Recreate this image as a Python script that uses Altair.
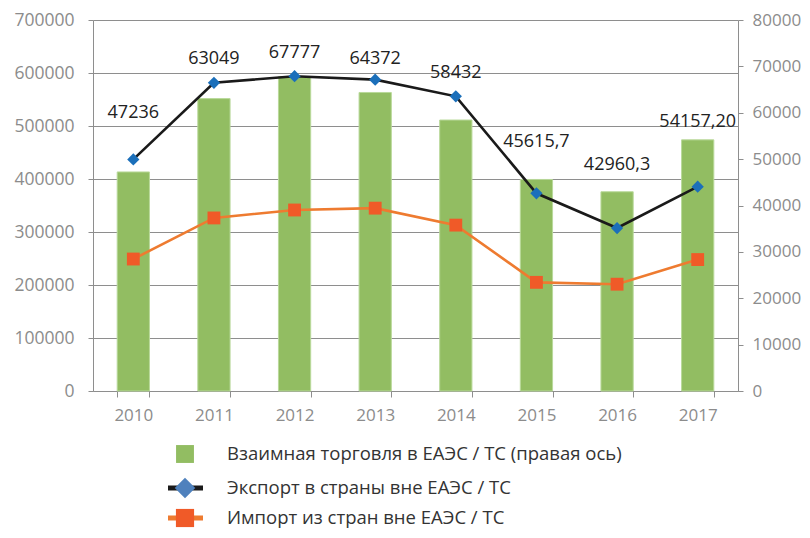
import altair as alt
import pandas as pd

years = ["2010", "2011", "2012", "2013", "2014", "2015", "2016", "2017"]
mutual_trade = [47236, 63049, 67777, 64372, 58432, 45615.7, 42960.3, 54157.20]
mutual_labels = ["47236", "63049", "67777", "64372", "58432", "45615,7", "42960,3", "54157,20"]
export_vals = [437000, 581500, 594000, 587500, 556000, 373000, 307500, 385500]
import_vals = [249000, 326500, 341500, 345000, 313000, 205000, 201500, 248000]
label_pos = [524600, 626500, 637800, 626500, 600000, 469900, 426500, 507600]

legend_labels = [
    "Взаимная торговля в ЕАЭС / ТС (правая ось)",
    "Экспорт в страны вне ЕАЭС / ТС",
    "Импорт из стран вне ЕАЭС / ТС",
]

df = pd.DataFrame({
    "year": years,
    "mutual": mutual_trade,
    "mutual_label": mutual_labels,
    "export": export_vals,
    "import": import_vals,
    "label_pos": label_pos,
})

FONT = "Open Sans"
GRAY = "#8c8c8c"
GRID = "#8e8e8e"

x_enc = alt.X(
    "year:N",
    title=None,
    scale=alt.Scale(paddingInner=0.6, paddingOuter=0.3),
    axis=alt.Axis(
        labelAngle=0, labelColor=GRAY, labelFont=FONT, labelFontSize=17,
        domainColor=GRID, tickColor=GRID, tickSize=6, tickBand="extent",
        labelPadding=10, grid=False,
    ),
)

base = alt.Chart(df)

bars = base.mark_bar(color="#92BD62", stroke="#B9D99A", strokeWidth=1).encode(
    x=x_enc,
    y=alt.Y(
        "mutual:Q", title=None,
        scale=alt.Scale(domain=[0, 80000], nice=False),
        axis=alt.Axis(
            orient="right", values=list(range(0, 80001, 10000)), format="d",
            labelColor=GRAY, labelFont=FONT, labelFontSize=17,
            domainColor=GRID, tickColor=GRID, tickSize=5, labelPadding=9,
            grid=False,
        ),
    ),
)

left_y_scale = alt.Scale(domain=[0, 700000], nice=False)
left_axis = alt.Axis(
    orient="left", values=list(range(0, 700001, 100000)), format="d",
    labelColor=GRAY, labelFont=FONT, labelFontSize=17.5,
    domainColor=GRID, tickColor=GRID, tickSize=5, labelPadding=14,
    grid=True, gridColor=GRID, gridWidth=1.2, gridOpacity=1,
)

export_line = base.mark_line(color="#1a1a1a", strokeWidth=2.6).encode(
    x=x_enc,
    y=alt.Y("export:Q", title=None, scale=left_y_scale, axis=left_axis),
)
export_pts = base.mark_point(shape="diamond", filled=True, color="#1B6FBA", size=150, opacity=1).encode(
    x=x_enc, y=alt.Y("export:Q", scale=left_y_scale)
)
import_line = base.mark_line(color="#EE7B30", strokeWidth=2.6).encode(
    x=x_enc, y=alt.Y("import:Q", scale=left_y_scale)
)
import_pts = base.mark_point(shape="square", filled=True, color="#F05A28", size=165, opacity=1).encode(
    x=x_enc, y=alt.Y("import:Q", scale=left_y_scale)
)
labels = base.mark_text(font=FONT, fontSize=18, color="#222222", baseline="middle", align="center").encode(
    x=x_enc, y=alt.Y("label_pos:Q", scale=left_y_scale), text="mutual_label:N"
)

left_layer = alt.layer(export_line, import_line, export_pts, import_pts, labels)

# manual legend
LEG_Y = [434, 468, 498]
one = alt.Chart(pd.DataFrame({"label": legend_labels}))
leg_green = one.transform_filter(alt.datum.label == legend_labels[0]).mark_point(
    shape="square", filled=True, color="#92BD62", size=320, opacity=1
).encode(x=alt.value(92), y=alt.value(LEG_Y[0]))
leg_black = one.transform_filter(alt.datum.label == legend_labels[1]).mark_rule(
    color="#1a1a1a", strokeWidth=5
).encode(x=alt.value(75), x2=alt.value(110), y=alt.value(LEG_Y[1]))
leg_diamond = one.transform_filter(alt.datum.label == legend_labels[1]).mark_point(
    shape="diamond", filled=True, color="#4F81BD", size=420, opacity=1
).encode(x=alt.value(92), y=alt.value(LEG_Y[1]))
leg_orange = one.transform_filter(alt.datum.label == legend_labels[2]).mark_rule(
    color="#EE7B30", strokeWidth=5
).encode(x=alt.value(75), x2=alt.value(110), y=alt.value(LEG_Y[2]))
leg_square = one.transform_filter(alt.datum.label == legend_labels[2]).mark_point(
    shape="square", filled=True, color="#F05A28", size=330, opacity=1
).encode(x=alt.value(92), y=alt.value(LEG_Y[2]))

leg_texts = []
for i, ypos in enumerate(LEG_Y):
    leg_texts.append(
        one.transform_filter(alt.datum.label == legend_labels[i]).mark_text(
            font=FONT, fontSize=18.5, color="#333333", align="left", baseline="middle"
        ).encode(x=alt.value(134), y=alt.value(ypos), text="label:N")
    )

chart = alt.layer(
    bars, left_layer, leg_green, leg_black, leg_diamond, leg_orange, leg_square, *leg_texts
).resolve_scale(y="independent").properties(
    width=645, height=371,
    autosize=alt.AutoSizeParams(type="none"),
    padding={"left": 85, "top": 12, "right": 64, "bottom": 139},
).configure_view(stroke=None)

chart.save("out.html", embed_options={"renderer": "svg", "actions": False})
